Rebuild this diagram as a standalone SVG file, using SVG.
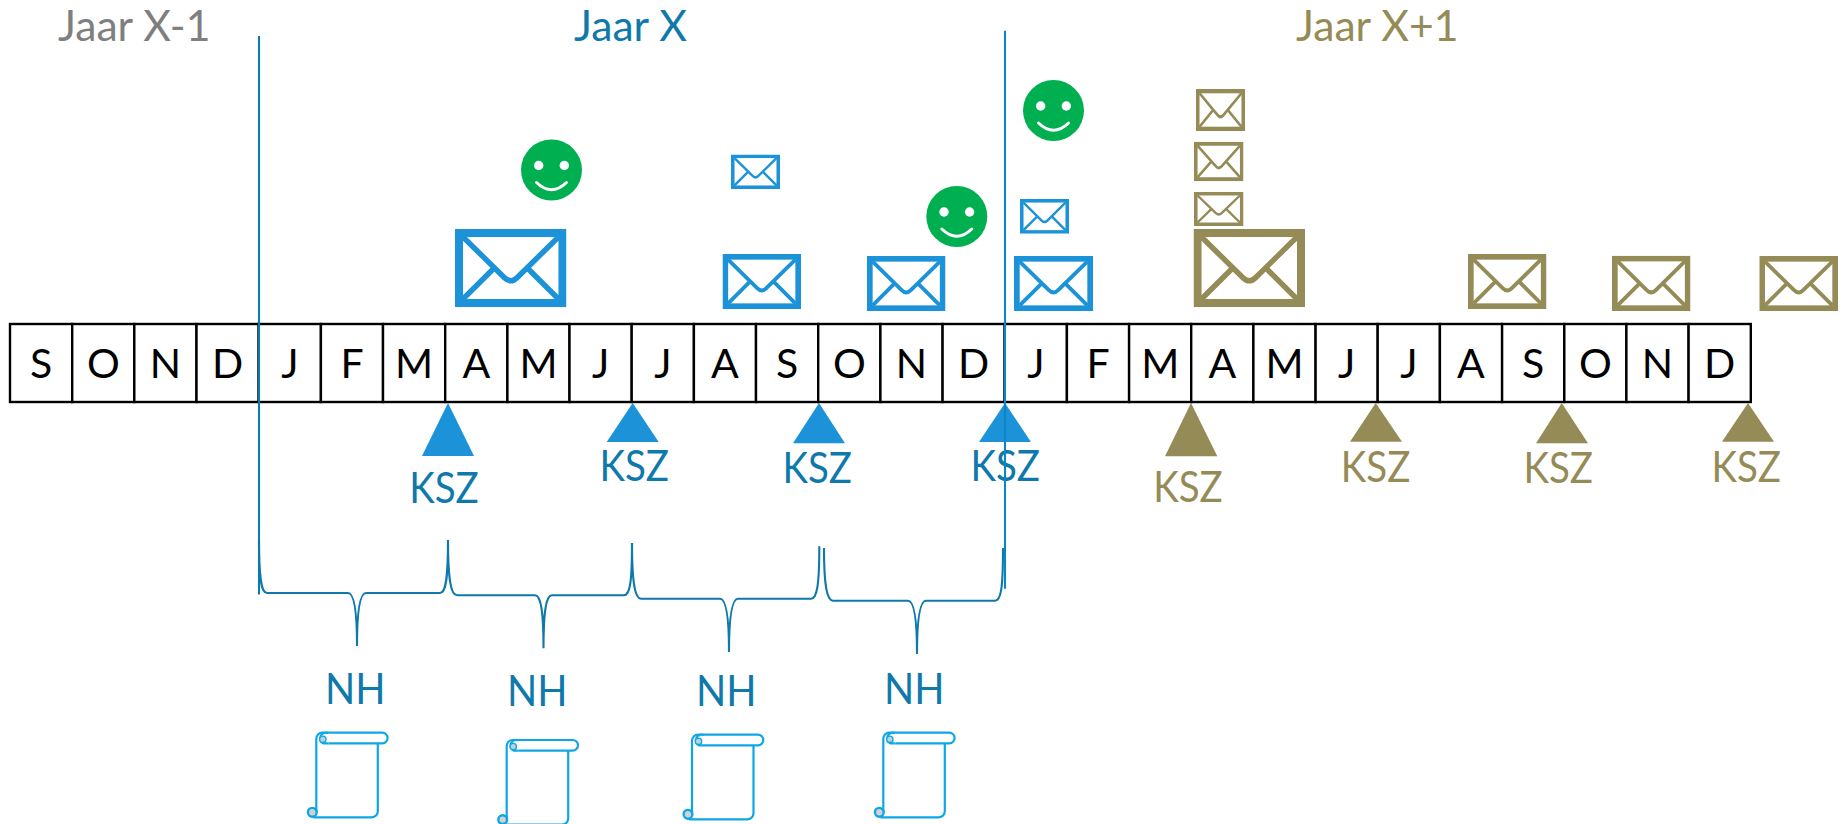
<svg xmlns="http://www.w3.org/2000/svg" xmlns:xlink="http://www.w3.org/1999/xlink" width="1843" height="824" viewBox="0 0 1843 824">
<style>
text{font-family:"Lato","Open Sans","Liberation Sans",sans-serif}
.m{font-size:41px;fill:#000;text-anchor:middle}
.cell{fill:#fff;stroke:#000;stroke-width:2.4}
.title{font-size:42.7px}
.k{font-size:42px;fill:#0f79ab}
.kt{font-size:42px;fill:#958b56}
.blue{color:#1c93d9}
.tan{color:#958b56}
.tb{fill:#1c93d9}
.tt{fill:#958b56}
.brace{fill:none;stroke:#0f79ab;stroke-width:2.1}
.vl{fill:none;stroke-width:2.1}
.face{fill:#00b050}
.eye{fill:#fff}
.smile{fill:none;stroke:#fff;stroke-width:3;stroke-linecap:round}
</style>
<defs>
<symbol id="env" viewBox="0 0 111 78" preserveAspectRatio="none">
<rect x="4" y="4" width="103" height="70" fill="none" stroke="currentColor" stroke-width="8"/>
<path d="M8,8 L49,48.5 Q55.5,55 62,48.5 L103,8 M8,70 L38,40 M103,70 L73,40" fill="none" stroke="currentColor" stroke-width="5.4"/>
</symbol>
<g id="smiley">
<ellipse class="face" cx="0" cy="0" rx="30.5" ry="30.5"/>
<circle class="eye" cx="-12.8" cy="-4.5" r="4.7"/>
<circle class="eye" cx="12.8" cy="-4.5" r="4.7"/>
<path class="smile" d="M-15,12.5 Q0,27 15,12.5"/>
</g>
<g id="scroll">
<path d="M-1,80 V6 A6,6 0 0 1 5,0 H65 A5.3,5.3 0 0 1 65,10.6 H11 M60.5,10.6 V78.5 A6,6 0 0 1 54.5,84.6 H-4" fill="#fff" stroke="#0ea7e6" stroke-width="2.2"/>
<path d="M11,0.6 A5,5 0 0 0 6,10.6 H11" fill="#fff" stroke="#0ea7e6" stroke-width="2.2"/>
<circle cx="5.5" cy="6.6" r="3.2" fill="#bcd3dc" stroke="#0ea7e6" stroke-width="1.4"/>
<circle cx="-5" cy="79.6" r="4.4" fill="#d2d2d2" stroke="#0ea7e6" stroke-width="2.4"/>
</g>
</defs>
<rect width="1843" height="824" fill="#fff"/>
<g id="titles">
<text id="t-prev" class="title" x="58" y="41" fill="#7f7f7f">Jaar X-1</text>
<text id="t-cur" class="title" x="574" y="41" fill="#0f79ab">Jaar X</text>
<text id="t-next" class="title" x="1296" y="41" fill="#958b56">Jaar X+1</text>
</g>
<g id="timeline">
<g id="m0"><rect class="cell" x="10" y="324" width="62.2" height="78"/><text class="m" x="41.1" y="378">S</text></g>
<g id="m1"><rect class="cell" x="72.2" y="324" width="62.1" height="78"/><text class="m" x="103.3" y="378">O</text></g>
<g id="m2"><rect class="cell" x="134.3" y="324" width="62.2" height="78"/><text class="m" x="165.4" y="378">N</text></g>
<g id="m3"><rect class="cell" x="196.5" y="324" width="62.2" height="78"/><text class="m" x="227.6" y="378">D</text></g>
<g id="m4"><rect class="cell" x="258.7" y="324" width="62.2" height="78"/><text class="m" x="289.8" y="378">J</text></g>
<g id="m5"><rect class="cell" x="320.9" y="324" width="62.1" height="78"/><text class="m" x="352" y="378">F</text></g>
<g id="m6"><rect class="cell" x="383" y="324" width="62.2" height="78"/><text class="m" x="414.1" y="378">M</text></g>
<g id="m7"><rect class="cell" x="445.2" y="324" width="62.2" height="78"/><text class="m" x="476.3" y="378">A</text></g>
<g id="m8"><rect class="cell" x="507.4" y="324" width="62.1" height="78"/><text class="m" x="538.5" y="378">M</text></g>
<g id="m9"><rect class="cell" x="569.5" y="324" width="62.2" height="78"/><text class="m" x="600.6" y="378">J</text></g>
<g id="m10"><rect class="cell" x="631.7" y="324" width="62.2" height="78"/><text class="m" x="662.8" y="378">J</text></g>
<g id="m11"><rect class="cell" x="693.9" y="324" width="62.1" height="78"/><text class="m" x="725" y="378">A</text></g>
<g id="m12"><rect class="cell" x="756" y="324" width="62.2" height="78"/><text class="m" x="787.1" y="378">S</text></g>
<g id="m13"><rect class="cell" x="818.2" y="324" width="62.2" height="78"/><text class="m" x="849.3" y="378">O</text></g>
<g id="m14"><rect class="cell" x="880.4" y="324" width="62.2" height="78"/><text class="m" x="911.5" y="378">N</text></g>
<g id="m15"><rect class="cell" x="942.6" y="324" width="62.1" height="78"/><text class="m" x="973.7" y="378">D</text></g>
<g id="m16"><rect class="cell" x="1004.7" y="324" width="62.2" height="78"/><text class="m" x="1035.8" y="378">J</text></g>
<g id="m17"><rect class="cell" x="1066.9" y="324" width="62.2" height="78"/><text class="m" x="1098" y="378">F</text></g>
<g id="m18"><rect class="cell" x="1129.1" y="324" width="62.1" height="78"/><text class="m" x="1160.2" y="378">M</text></g>
<g id="m19"><rect class="cell" x="1191.2" y="324" width="62.2" height="78"/><text class="m" x="1222.3" y="378">A</text></g>
<g id="m20"><rect class="cell" x="1253.4" y="324" width="62.2" height="78"/><text class="m" x="1284.5" y="378">M</text></g>
<g id="m21"><rect class="cell" x="1315.6" y="324" width="62.1" height="78"/><text class="m" x="1346.7" y="378">J</text></g>
<g id="m22"><rect class="cell" x="1377.7" y="324" width="62.2" height="78"/><text class="m" x="1408.8" y="378">J</text></g>
<g id="m23"><rect class="cell" x="1439.9" y="324" width="62.2" height="78"/><text class="m" x="1471" y="378">A</text></g>
<g id="m24"><rect class="cell" x="1502.1" y="324" width="62.2" height="78"/><text class="m" x="1533.2" y="378">S</text></g>
<g id="m25"><rect class="cell" x="1564.3" y="324" width="62.1" height="78"/><text class="m" x="1595.4" y="378">O</text></g>
<g id="m26"><rect class="cell" x="1626.4" y="324" width="62.2" height="78"/><text class="m" x="1657.5" y="378">N</text></g>
<g id="m27"><rect class="cell" x="1688.6" y="324" width="62.2" height="78"/><text class="m" x="1719.7" y="378">D</text></g>
</g>
<g id="envelopes">
<use id="e1" class="blue" href="#env" x="455" y="229" width="111.5" height="78"/>
<use id="e2" class="blue" href="#env" x="731" y="154.5" width="49" height="34.5"/>
<use id="e3" class="blue" href="#env" x="722.5" y="254" width="78.5" height="55"/>
<use id="e4" class="blue" href="#env" x="867" y="256" width="78.5" height="55"/>
<use id="e5" class="blue" href="#env" x="1020" y="199" width="49" height="34.7"/>
<use id="e6" class="blue" href="#env" x="1014" y="256" width="79" height="55"/>
<use id="e7" class="tan" href="#env" x="1196" y="89" width="49" height="42"/>
<use id="e8" class="tan" href="#env" x="1194" y="141.7" width="49.5" height="39.6"/>
<use id="e9" class="tan" href="#env" x="1194" y="192" width="49.5" height="34"/>
<use id="e10" class="tan" href="#env" x="1193.5" y="229" width="111.5" height="78"/>
<use id="e11" class="tan" href="#env" x="1468" y="254" width="78.5" height="55"/>
<use id="e12" class="tan" href="#env" x="1612" y="255.7" width="78.5" height="55.3"/>
<use id="e13" class="tan" href="#env" x="1759.3" y="256" width="78.7" height="55"/>
</g>
<g id="smileys">
<use id="s1" href="#smiley" x="551.5" y="170"/>
<use id="s2" href="#smiley" x="1053.5" y="110.5"/>
<use id="s3" href="#smiley" x="956.8" y="216.5"/>
</g>
<g id="ksz-blue">
<g id="kb1"><polygon class="tb" points="448,403 474,456 422,456"/><text class="k" x="409.2" y="502.7" textLength="69.5" lengthAdjust="spacingAndGlyphs">KSZ</text></g>
<g id="kb2"><polygon class="tb" points="632.7,403 658.7,442 606.7,442"/><text class="k" x="599.5" y="481" textLength="69.5" lengthAdjust="spacingAndGlyphs">KSZ</text></g>
<g id="kb3"><polygon class="tb" points="819,403 845,443.3 793,443.3"/><text class="k" x="782.5" y="482.7" textLength="69.5" lengthAdjust="spacingAndGlyphs">KSZ</text></g>
<g id="kb4"><polygon class="tb" points="1005,403 1031,442 979,442"/><text class="k" x="970.5" y="481" textLength="69.5" lengthAdjust="spacingAndGlyphs">KSZ</text></g>
</g>
<g id="ksz-tan">
<g id="kt1"><polygon class="tt" points="1191,403 1217.3,456.3 1165,456.3"/><text class="kt" x="1153.2" y="502.3" textLength="69.5" lengthAdjust="spacingAndGlyphs">KSZ</text></g>
<g id="kt2"><polygon class="tt" points="1375.7,403 1402,441.7 1350,441.7"/><text class="kt" x="1340.8" y="481.7" textLength="69.5" lengthAdjust="spacingAndGlyphs">KSZ</text></g>
<g id="kt3"><polygon class="tt" points="1561.7,403 1588,443.3 1536,443.3"/><text class="kt" x="1523.5" y="483" textLength="69.5" lengthAdjust="spacingAndGlyphs">KSZ</text></g>
<g id="kt4"><polygon class="tt" points="1748,403 1774,441.7 1722,441.7"/><text class="kt" x="1711.5" y="481.7" textLength="69.5" lengthAdjust="spacingAndGlyphs">KSZ</text></g>
</g>
<g id="connectors">
<path class="vl" stroke="#0f79ab" d="M259,36 V594.5"/>
<path class="vl" stroke="#0a86c4" d="M1005,30.7 V588.7"/>
<path class="brace" d="M259,540 C259,578 261,593 267,593 H348 C354,593 357,610 357,646 C357,610 360,593 366,593 H440 C446,593 448,578 448,540"/>
<path class="brace" d="M448,540 C448,580 451,595.3 457,595.3 H535 C541,595.3 543.5,612 543.5,648.3 C543.5,612 546,595.3 552,595.3 H624 C630,595.3 632,582 632,543"/>
<path class="brace" d="M632,543 C632,583 635,598.7 641,598.7 H720 C726,598.7 729,616 729,652 C729,616 732,598.7 738,598.7 H811 C817,598.7 819.3,585 819.3,546.3"/>
<path class="brace" d="M824,548 C824,586 827,600.7 833,600.7 H908 C914,600.7 917,618 917,654 C917,618 920,600.7 926,600.7 H995 C1001,600.7 1003,588 1003,548"/>
</g>
<g id="nh1"><text class="k" x="325" y="703.7" textLength="60.5" lengthAdjust="spacingAndGlyphs">NH</text><use href="#scroll" x="317.3" y="732.7"/></g>
<g id="nh2"><text class="k" x="507" y="705.7" textLength="60.5" lengthAdjust="spacingAndGlyphs">NH</text><use href="#scroll" x="507.7" y="740"/></g>
<g id="nh3"><text class="k" x="696" y="705.7" textLength="60.5" lengthAdjust="spacingAndGlyphs">NH</text><use href="#scroll" x="693" y="734.7"/></g>
<g id="nh4"><text class="k" x="884" y="703.7" textLength="60.5" lengthAdjust="spacingAndGlyphs">NH</text><use href="#scroll" x="884.3" y="732.7"/></g>
</svg>
